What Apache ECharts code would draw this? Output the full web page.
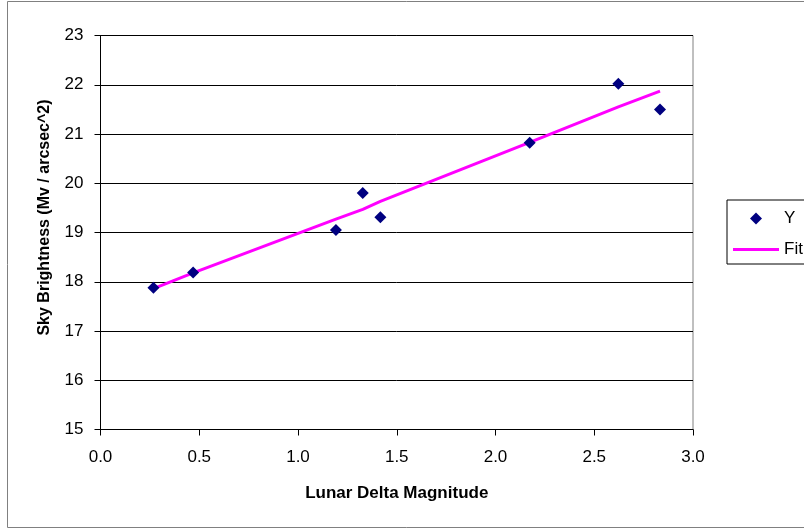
<!DOCTYPE html>
<html lang="en">
<head>
    <meta charset="UTF-8">
    <title>Sky Brightness</title>
    <script src="https://cdn.jsdelivr.net/npm/echarts@6/dist/echarts.min.js"></script>
    <style>
        html, body { margin: 0; padding: 0; background: #fff; }
    </style>
</head>
<body>
    <div id="main" style="width: 804px;height: 529px"></div>
    <script type="text/javascript">
        // lunar delta magnitude vs sky brightness
        var deltaMag = [0.268, 0.469, 1.192, 1.328, 1.417, 2.173, 2.622, 2.833];
        var skyY = [17.88, 18.19, 19.05, 19.80, 19.31, 20.82, 22.02, 21.50];
        var skyFit = [17.86, 18.18, 19.27, 19.47, 19.63, 20.83, 21.55, 21.87];

        var font = 'Arial, "Liberation Sans", sans-serif';

        var ptsY = [], ptsFit = [];
        for (var i = 0; i < deltaMag.length; i++) {
            ptsY.push([deltaMag[i], skyY[i]]);
            ptsFit.push([deltaMag[i], skyFit[i]]);
        }

        var option = {
            backgroundColor: '#fff',
            animation: false,
            textStyle: { fontFamily: font },
            grid: {
                left: 100.5,
                top: 35.5,
                width: 592.5,
                height: 394,
                show: true,
                borderColor: '#808080',
                borderWidth: 1
            },
            graphic: [{
                type: 'rect',
                shape: { x: 7.5, y: 1.5, width: 820, height: 526 },
                style: { fill: 'none', stroke: '#808080', lineWidth: 1 },
                z: 0
            }],
            legend: {
                orient: 'vertical',
                left: 727,
                top: 200,
                padding: [10, 10, 6, 6],
                borderColor: '#000',
                borderWidth: 1,
                itemWidth: 46,
                itemHeight: 12,
                itemGap: 14,
                symbolKeepAspect: true,
                textStyle: { fontSize: 17, color: '#000', fontFamily: font },
                data: [
                    { name: 'Y', icon: 'path://M6,0L12,6L6,12L0,6Z', itemStyle: { color: '#000080', opacity: 1 } },
                    { name: 'Fit', icon: 'path://M0,0L46,0L46,3L0,3Z', itemStyle: { color: '#ff00ff' } }
                ]
            },
            xAxis: {
                type: 'value',
                min: 0,
                max: 3,
                interval: 0.5,
                name: 'Lunar Delta Magnitude',
                nameLocation: 'middle',
                nameGap: 55,
                nameTextStyle: { fontSize: 17, fontWeight: 'bold', color: '#000', fontFamily: font },
                axisLine: { onZero: false, lineStyle: { color: '#000', width: 1 } },
                axisTick: { show: true, inside: false, length: 6, lineStyle: { color: '#000' } },
                axisLabel: {
                    margin: 19, fontSize: 17, color: '#000',
                    formatter: function (v) { return v.toFixed(1); }
                },
                splitLine: { show: false }
            },
            yAxis: {
                type: 'value',
                min: 15,
                max: 23,
                interval: 1,
                name: 'Sky Brightness (Mv / arcsec^2)',
                nameLocation: 'middle',
                nameGap: 48,
                nameTextStyle: {
                    fontSize: 16, fontWeight: 'bold', color: '#000', fontFamily: font,
                    padding: [0, 0, 0, 30]
                },
                axisLine: { onZero: false, lineStyle: { color: '#000', width: 1 } },
                axisTick: { show: true, inside: false, length: 6, lineStyle: { color: '#000' } },
                axisLabel: { margin: 17, fontSize: 17, color: '#000' },
                splitLine: { show: true, lineStyle: { color: '#000', width: 1 } }
            },
            series: [
                {
                    name: 'Y',
                    type: 'scatter',
                    symbol: 'diamond',
                    symbolSize: 12,
                    itemStyle: { color: '#000080', opacity: 1 },
                    data: ptsY,
                    z: 3
                },
                {
                    name: 'Fit',
                    type: 'line',
                    symbol: 'none',
                    lineStyle: { color: '#ff00ff', width: 3 },
                    itemStyle: { color: '#ff00ff' },
                    data: ptsFit,
                    z: 2
                }
            ]
        };

        var myChart = echarts.init(document.getElementById('main'));
        myChart.setOption(option);
    </script>
</body>
</html>
